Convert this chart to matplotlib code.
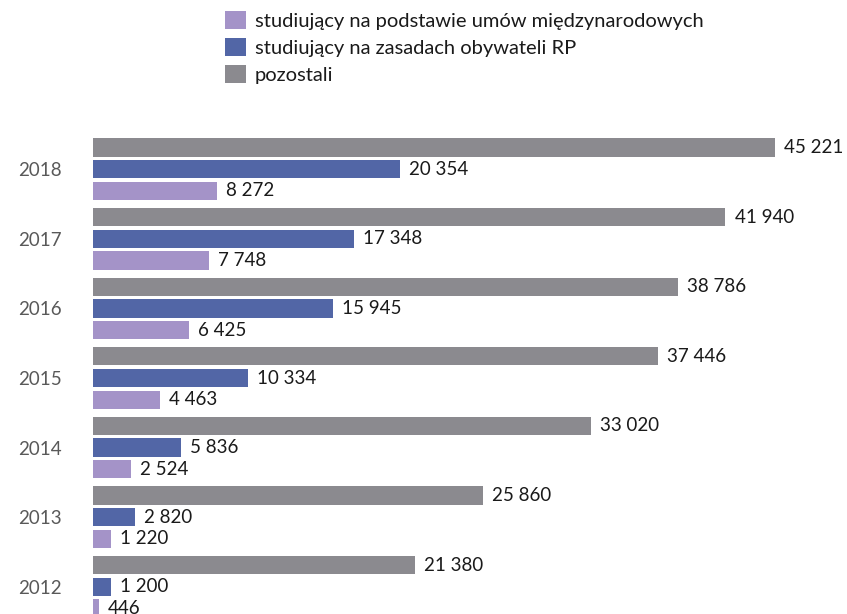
import matplotlib
matplotlib.use("Agg")
import matplotlib.pyplot as plt
from matplotlib.patches import Patch
import numpy as np

years = ["2012", "2013", "2014", "2015", "2016", "2017", "2018"]
umowy = [446, 1220, 2524, 4463, 6425, 7748, 8272]
obywatele = [1200, 2820, 5836, 10334, 15945, 17348, 20354]
pozostali = [21380, 25860, 33020, 37446, 38786, 41940, 45221]
series_names = ["studiujący na podstawie umów międzynarodowych",
                "studiujący na zasadach obywateli RP",
                "pozostali"]
colors = ["#a493c8", "#5266a6", "#8b8a8f"]

plt.rcParams['font.family'] = ['Lato', 'DejaVu Sans']

W, H = 847, 614
fig = plt.figure(figsize=(W / 100, H / 100), dpi=100)

# axes geometry (pixels)
left_px = 92.5
xmax = 50000
scale = (775 - 92.5) / 45221
ax_w = xmax * scale
pitch = 69.6
top_px = 100
center2018 = 169.2
ytop = 6 + (center2018 - top_px) / pitch
ybot = -(H - 586.8) / pitch
ax = fig.add_axes([left_px / W, 0, ax_w / W, (H - top_px) / H])
ax.set_xlim(0, xmax)
ax.set_ylim(ybot, ytop)

y = np.arange(len(years))
off = 21.7 / pitch
bh = 18.3 / pitch
fs = 13.5

def fmt(v):
    return f"{v:,}".replace(",", " ")

for vals, dy, c in [(pozostali, off, colors[2]), (obywatele, 0, colors[1]), (umowy, -off, colors[0])]:
    ax.barh(y + dy, vals, height=bh, color=c, edgecolor='none')
    for yi, v in zip(y, vals):
        ax.annotate(fmt(v), (v, yi + dy), xytext=(6.5, 0), textcoords='offset points',
                    va='center', ha='left', fontsize=fs, color='#1a1a1a')

ax.set_yticks(y)
ax.set_yticklabels(years, fontsize=fs, color='#595959')
ax.tick_params(axis='y', length=0, pad=22)
ax.set_xticks([])
for s in ax.spines.values():
    s.set_visible(False)

lfs = 14.5
lpx = lfs * 100 / 72
handles = [Patch(facecolor=c, edgecolor='none') for c in colors]
leg = fig.legend(handles, series_names, loc='upper left',
                 bbox_to_anchor=(225 / W, 1 - 11 / H), frameon=False,
                 fontsize=lfs, handlelength=21 / lpx, handleheight=20 / lpx,
                 handletextpad=9 / lpx, labelspacing=8 / lpx,
                 borderpad=0, borderaxespad=0)
for t in leg.get_texts():
    t.set_color('#1a1a1a')

fig.savefig("out.png", dpi=100)
